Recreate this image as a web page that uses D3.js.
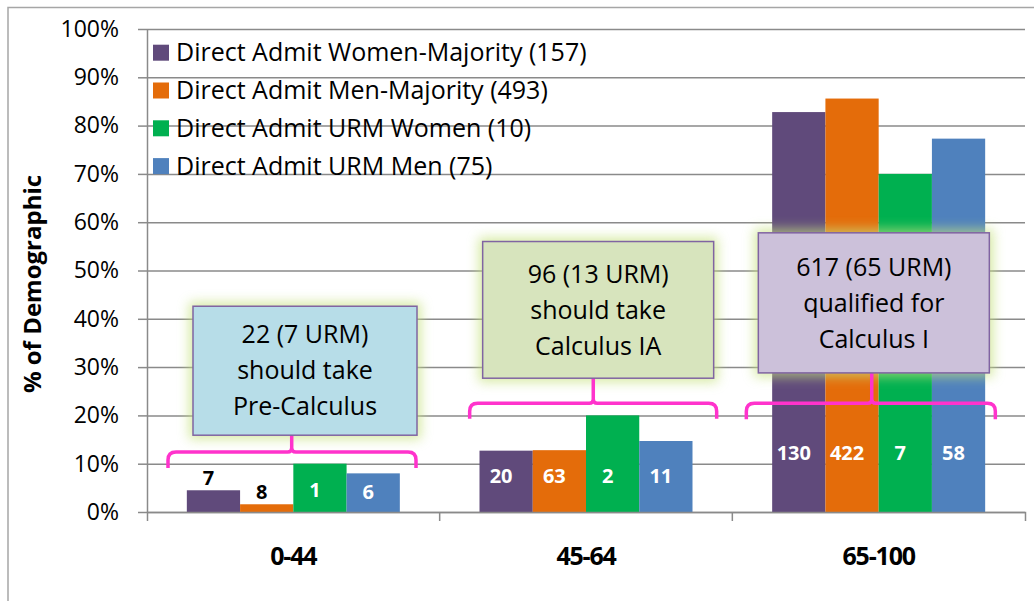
<!DOCTYPE html>
<html>
<head>
<meta charset="utf-8">
<script src="https://cdn.jsdelivr.net/npm/d3@7"></script>
<style>
  body { margin: 0; background: #fff; }
  svg { display: block; font-family: "Open Sans", Lato, sans-serif; }
</style>
</head>
<body>
<div id="vis"></div>
<script>
// categories and series
var categories = ["0-44", "45-64", "65-100"];
var seriesNames = [
    "Direct Admit Women-Majority (157)",
    "Direct Admit Men-Majority (493)",
    "Direct Admit URM Women (10)",
    "Direct Admit URM Men (75)"
];
var seriesColors = ["#604a7b", "#e46c0a", "#00b050", "#4f81bd"];

// % of demographic per category
var womenMajority = [4.5, 12.7, 82.8];
var menMajority = [1.6, 12.8, 85.6];
var urmWomen = [10, 20, 70];
var urmMen = [8, 14.7, 77.3];

// head counts shown on the bars
var womenMajorityCount = [7, 20, 130];
var menMajorityCount = [8, 63, 422];
var urmWomenCount = [1, 2, 7];
var urmMenCount = [6, 11, 58];

var yTicks = [0, 10, 20, 30, 40, 50, 60, 70, 80, 90, 100];

// callout texts
var calloutText = [
    ["22 (7 URM)", "should take", "Pre-Calculus"],
    ["96 (13 URM)", "should take", "Calculus IA"],
    ["617 (65 URM)", "qualified for", "Calculus I"]
];
var calloutFill = ["#b7dde8", "#d7e4bd", "#ccc1da"];

var values = [womenMajority, menMajority, urmWomen, urmMen];
var counts = [womenMajorityCount, menMajorityCount, urmWomenCount, urmMenCount];

var W = 1034, H = 601;
var margin = { left: 147, right: 1025, top: 29, bottom: 512 };
var gridColor = "#8a8a8a";

var svg = d3.select("#vis").append("svg").attr("width", W).attr("height", H);

// glow filter for callouts
var defs = svg.append("defs");
defs.append("filter").attr("id", "glow")
    .attr("x", "-30%").attr("y", "-30%").attr("width", "160%").attr("height", "160%")
    .append("feGaussianBlur").attr("stdDeviation", 6);

svg.append("rect").attr("width", W).attr("height", H).attr("fill", "#fff");

// outer frame (only left and top visible)
svg.append("rect")
    .attr("x", 8).attr("y", 7.5).attr("width", 1100).attr("height", 700)
    .attr("fill", "none").attr("stroke", "#a6a6a6").attr("stroke-width", 1.5);

//scales
var x0 = d3.scaleBand().domain(categories).range([margin.left, margin.right]).padding(0);
var groupPad = (x0.bandwidth() - 213) / 2;
var x1 = d3.scaleBand().domain(d3.range(seriesNames.length)).range([groupPad, x0.bandwidth() - groupPad]).padding(0);
var y = d3.scaleLinear().domain([0, 100]).range([margin.bottom, margin.top]);

//gridlines
var grid = svg.append("g").attr("transform", "translate(" + margin.left + ",0)")
    .call(d3.axisLeft(y).tickValues(yTicks).tickSize(-(margin.right - margin.left)).tickFormat(""));
grid.select(".domain").remove();
grid.selectAll("line").attr("stroke", gridColor).attr("stroke-width", 1.5);

//y axis
var yAxis = svg.append("g").attr("transform", "translate(" + margin.left + ",0)")
    .call(d3.axisLeft(y).tickValues(yTicks).tickSize(9).tickSizeOuter(0).tickPadding(19).tickFormat(d => d + "%"));
yAxis.select(".domain").attr("stroke", gridColor).attr("stroke-width", 1.5);
yAxis.selectAll("line").attr("stroke", gridColor).attr("stroke-width", 1.5);
yAxis.selectAll("text").attr("font-size", 23).attr("fill", "#000").attr("font-family", "Open Sans");

svg.append("text")
    .attr("transform", "translate(41,284) rotate(-90)")
    .attr("text-anchor", "middle")
    .attr("font-size", 24).attr("font-weight", "bold")
    .text("% of Demographic");

//bars
var groups = svg.selectAll(".group").data(categories).enter().append("g")
    .attr("class", "group")
    .attr("transform", d => "translate(" + x0(d) + ",0)");

groups.selectAll("rect")
    .data((d, i) => values.map((s, k) => ({ k: k, v: s[i] })))
    .enter().append("rect")
    .attr("x", d => x1(d.k))
    .attr("width", x1.bandwidth())
    .attr("y", d => y(d.v))
    .attr("height", d => y(0) - y(d.v))
    .attr("fill", d => seriesColors[d.k]);

//x axis
var xAxis = svg.append("g").attr("transform", "translate(0," + margin.bottom + ")")
    .call(d3.axisBottom(x0).tickSize(0).tickSizeOuter(9).tickPadding(35));
xAxis.select(".domain").attr("stroke", gridColor).attr("stroke-width", 1.5);
xAxis.selectAll("text").attr("font-size", 25).attr("font-weight", "bold").attr("fill", "#000")
    .attr("font-family", "Open Sans").attr("letter-spacing", -1.2);
xAxis.selectAll(".sep").data(categories.slice(1)).enter().append("line")
    .attr("x1", d => x0(d)).attr("x2", d => x0(d))
    .attr("y1", 0).attr("y2", 9)
    .attr("stroke", gridColor).attr("stroke-width", 1.5);

//count labels (placed by hand in the original)
var labelAt = [[7.0, 4.1, 4.5, 4.1], [7.5, 7.5, 7.5, 7.5], [12.2, 12.2, 12.2, 12.2]];
groups.selectAll(".lbl")
    .data((d, i) => counts.map((s, k) => ({ k: k, g: i, c: s[i], v: values[k][i] })))
    .enter().append("text")
    .attr("class", "lbl")
    .attr("x", d => x1(d.k) + x1.bandwidth() / 2 - 5)
    .attr("y", d => y(labelAt[d.g][d.k]))
    .attr("dy", "0.35em")
    .attr("text-anchor", "middle")
    .attr("font-size", 20).attr("font-weight", "bold")
    .attr("fill", d => y(labelAt[d.g][d.k]) > y(d.v) ? "#fff" : "#000")
    .text(d => d.c);

//legend
var legend = svg.append("g");
seriesNames.forEach(function (name, i) {
    var cy = 52.7 + i * 37.8;
    legend.append("rect").attr("x", 153).attr("y", cy - 8).attr("width", 16).attr("height", 16).attr("fill", seriesColors[i]);
    legend.append("text").attr("x", 176).attr("y", cy).attr("dy", "0.35em")
        .attr("font-size", 25).text(name);
});

//callouts: box in band-relative px and % units, brace in the same
var callouts = [
    { bx0: 46, bx1: 270, top: 42.6, bot: 15.9, xl: 21, xr: 269, xt: 144.7, yh: 12.4, ye: 9.1 },
    { bx0: 43, bx1: 274, top: 56.0, bot: 27.7, xl: 30, xr: 277, xt: 153.6, yh: 22.5, ye: 19.3 },
    { bx0: 26, bx1: 257, top: 57.8, bot: 28.8, xl: 14, xr: 263, xt: 139.4, yh: 22.5, ye: 19.2 }
];

var ann = svg.append("g");
callouts.forEach(function (c, i) {
    var ox = x0(categories[i]);
    var bx = ox + c.bx0, bw = c.bx1 - c.bx0, by = y(c.top), bh = y(c.bot) - y(c.top);

    // brace
    var xl = ox + c.xl, xr = ox + c.xr, xt = ox + c.xt, yh = y(c.yh), ye = y(c.ye), r = 8;
    var p = "M" + xl + "," + ye + " L" + xl + "," + (yh + r) + " Q" + xl + "," + yh + " " + (xl + r) + "," + yh +
        " L" + (xt - 4) + "," + yh + " Q" + xt + "," + yh + " " + xt + "," + (yh - 4) + " L" + xt + "," + (by + bh) +
        " M" + xt + "," + (yh - 4) + " Q" + xt + "," + yh + " " + (xt + 4) + "," + yh +
        " L" + (xr - r) + "," + yh + " Q" + xr + "," + yh + " " + xr + "," + (yh + r) + " L" + xr + "," + ye;

    ann.append("rect")
        .attr("x", bx - 4).attr("y", by - 4).attr("width", bw + 8).attr("height", bh + 8)
        .attr("fill", "#c6e27f").attr("opacity", 0.7)
        .attr("filter", "url(#glow)");

    ann.append("path").attr("d", p)
        .attr("fill", "none").attr("stroke", "#ff33cc").attr("stroke-width", 3.5);

    ann.append("rect")
        .attr("x", bx).attr("y", by).attr("width", bw).attr("height", bh)
        .attr("fill", calloutFill[i]).attr("stroke", "#8064a2").attr("stroke-width", 1.5);

    calloutText[i].forEach(function (line, j) {
        ann.append("text")
            .attr("x", bx + bw / 2).attr("y", by + bh / 2 + (j - 1) * 36)
            .attr("dy", "0.35em")
            .attr("text-anchor", "middle")
            .attr("font-size", 25)
            .text(line);
    });
});
</script>
</body>
</html>
